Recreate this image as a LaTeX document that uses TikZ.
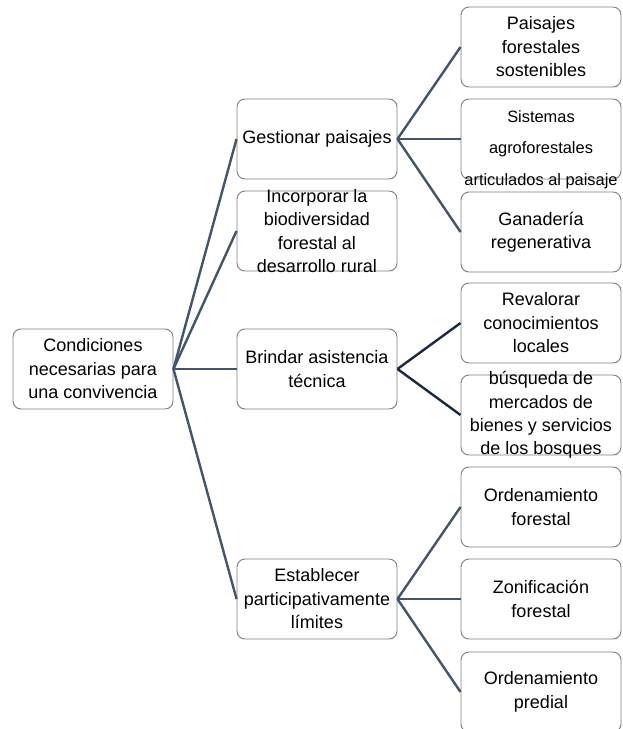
\documentclass[tikz,border=0pt]{standalone}
\usepackage{fontspec}
\setmainfont{Liberation Sans}
\usetikzlibrary{positioning}
\definecolor{Slate}{HTML}{44546A}
\definecolor{Navy} {HTML}{1B2A41}
\definecolor{BGray}{HTML}{7F7F7F}
\tikzset{
  box/.style={
    rectangle, rounded corners=6pt,
    draw=BGray, fill=white, line width=0.7pt,
    minimum width=120pt, minimum height=60pt, inner sep=0pt,
  },
  txt/.style={
    font=\fontsize{13.5}{17.6}\selectfont, align=center, inner sep=0pt,
  },
  link/.style={line width=1.8pt, color=#1},
  link/.default=Slate,
}
\begin{document}
\begin{tikzpicture}[x=0.75pt,y=-0.75pt]
  \useasboundingbox (0,0) rectangle (622,729);
  % root
  \node[box] (root) at (93,369) {};
  % second level
  \node[box] (gp) at (317,139) {};
  \node[box] (ib) at (317,231) {};
  \node[box] (ba) at (317,369) {};
  \node[box] (ep) at (317,599) {};
  % third level
  \node[box] (pf) at (541,47)  {};
  \node[box] (sa) at (541,139) {};
  \node[box] (gr) at (541,232) {};
  \node[box] (rc) at (541,323) {};
  \node[box] (bm) at (541,415) {};
  \node[box] (of) at (541,507) {};
  \node[box] (zf) at (541,599) {};
  \node[box] (op) at (541,692) {};
  % connectors
  \foreach \n in {gp,ib,ba,ep} \draw[link] (root.east) -- (\n.west);
  \foreach \n in {pf,sa,gr} \draw[link] (gp.east) -- (\n.west);
  \foreach \n in {rc,bm} \draw[link=Navy] (ba.east) -- (\n.west);
  \foreach \n in {of,zf,op} \draw[link] (ep.east) -- (\n.west);
  % texts
  \node[txt] (root-t) at (root) {Condiciones\\necesarias para\\una convivencia};
  \node[txt] (gp-t) at (gp) {Gestionar paisajes};
  \node[txt] (ib-t) at (ib) {Incorporar la\\biodiversidad\\forestal al\\desarrollo rural};
  \node[txt] (ba-t) at (ba) {Brindar asistencia\\técnica};
  \node[txt] (ep-t) at (ep) {Establecer\\participativamente\\límites};
  \node[txt] (pf-t) at (pf) {Paisajes\\forestales\\sostenibles};
  \node[txt, font=\fontsize{12.3}{23.5}\selectfont, yshift=-8pt] (sa-t) at (sa)
    {Sistemas\\agroforestales\\articulados al paisaje};
  \node[txt] (gr-t) at (gr) {Ganadería\\regenerativa};
  \node[txt] (rc-t) at (rc) {Revalorar\\conocimientos\\locales};
  \node[txt] (bm-t) at (bm) {búsqueda de\\mercados de\\bienes y servicios\\de los bosques};
  \node[txt] (of-t) at (of) {Ordenamiento\\forestal};
  \node[txt] (zf-t) at (zf) {Zonificación\\forestal};
  \node[txt] (op-t) at (op) {Ordenamiento\\predial};
\end{tikzpicture}
\end{document}
